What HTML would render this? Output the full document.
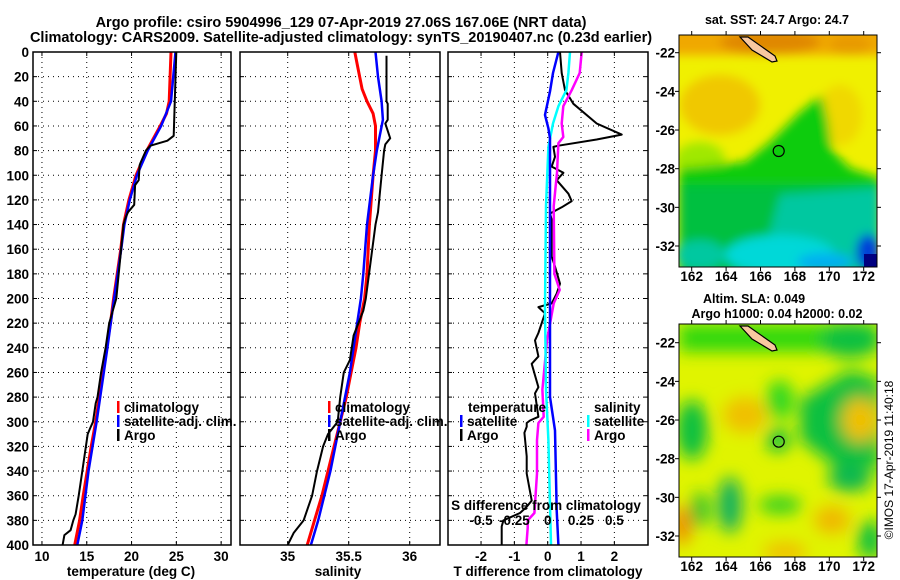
<!DOCTYPE html>
<html><head><meta charset="utf-8">
<style>
html,body{margin:0;padding:0;background:#fff;}
svg{display:block;font-family:"Liberation Sans",Arial,sans-serif;font-weight:bold;}
text{fill:#000;}
</style></head>
<body>
<svg id="chart" width="900" height="580" viewBox="0 0 900 580" xmlns="http://www.w3.org/2000/svg">
<defs>
<filter id="bl" x="-30%" y="-30%" width="160%" height="160%"><feGaussianBlur stdDeviation="5"/></filter>
<filter id="bl2" x="-30%" y="-30%" width="160%" height="160%"><feGaussianBlur stdDeviation="8"/></filter>
<clipPath id="cm1"><rect x="679" y="35" width="198" height="232"/></clipPath>
<clipPath id="cm2"><rect x="679" y="324" width="198" height="233"/></clipPath>
<clipPath id="cp1"><rect x="33" y="52" width="198" height="493"/></clipPath>
<clipPath id="cp2"><rect x="240" y="52" width="200" height="493"/></clipPath>
<clipPath id="cp3"><rect x="448" y="52" width="200" height="493"/></clipPath>
</defs>
<text x="341" y="27" font-size="14.5" text-anchor="middle">Argo profile: csiro 5904996_129 07-Apr-2019 27.06S 167.06E (NRT data)</text>
<text x="341" y="42" font-size="14.5" text-anchor="middle">Climatology: CARS2009. Satellite-adjusted climatology: synTS_20190407.nc (0.23d earlier)</text>

<g id="grid"></g>
<g id="series"></g>
<g id="axes"></g>

<!-- SST map -->
<g clip-path="url(#cm1)">
<rect x="679" y="35" width="198" height="232" fill="#f0f000"/>
<g filter="url(#bl)">
<rect x="660" y="20" width="240" height="35" fill="#f0a800"/>
<ellipse cx="770" cy="42" rx="50" ry="12" fill="#e08800"/>
<ellipse cx="850" cy="45" rx="20" ry="10" fill="#e89a00"/>
<ellipse cx="720" cy="105" rx="40" ry="30" fill="#f0c800"/>
<ellipse cx="840" cy="115" rx="22" ry="30" fill="#f0d800"/>
<ellipse cx="700" cy="160" rx="25" ry="18" fill="#a0e800"/>
<polygon points="822,95 800,112 784,128 770,142 760,150 745,162 679,168 679,270 880,270 880,178 850,168 832,150 828,120" fill="#10cc10"/>
<rect x="679" y="185" width="200" height="90" fill="#00c040"/>
<polygon points="780,195 880,188 880,270 760,270" fill="#00c8a0"/>
<ellipse cx="780" cy="255" rx="55" ry="20" fill="#00d8d8"/>
<ellipse cx="700" cy="255" rx="25" ry="15" fill="#00c8a0"/>
<ellipse cx="825" cy="262" rx="28" ry="9" fill="#00b0f0"/>
<ellipse cx="868" cy="252" rx="12" ry="18" fill="#0040d8"/>
</g>
<rect x="864" y="254" width="14" height="14" fill="#000080"/>
</g>
<rect x="679" y="35" width="198" height="232" fill="none" stroke="#000" stroke-width="1"/>
<path d="M740,37 L748,37 L775,56 L777,61 L772,62 L752,50 Z" fill="#f8c8a0" stroke="#000" stroke-width="1.2"/>
<circle cx="778.7" cy="151" r="5.5" fill="none" stroke="#000" stroke-width="1.2"/>
<text x="777" y="24" font-size="12.5" text-anchor="middle">sat. SST: 24.7 Argo: 24.7</text>

<!-- SLA map -->
<g clip-path="url(#cm2)">
<rect x="679" y="324" width="198" height="233" fill="#e0f400"/>
<g filter="url(#bl2)">
<rect x="679" y="324" width="200" height="28" fill="#30d810"/>
<ellipse cx="850" cy="340" rx="30" ry="18" fill="#10c040"/>
<ellipse cx="745" cy="415" rx="22" ry="18" fill="#f0c000"/>
<ellipse cx="692" cy="430" rx="16" ry="30" fill="#10c040"/>
<ellipse cx="780" cy="400" rx="14" ry="20" fill="#30d820"/>
<ellipse cx="778" cy="440" rx="12" ry="12" fill="#10c040"/>
<polygon points="800,400 850,370 880,380 880,470 860,465 840,470 800,440" fill="#10c040"/>
<ellipse cx="860" cy="420" rx="18" ry="22" fill="#f0c000"/>
<ellipse cx="850" cy="478" rx="22" ry="14" fill="#10b850"/>
<ellipse cx="730" cy="505" rx="12" ry="28" fill="#10b060"/>
<ellipse cx="700" cy="510" rx="9" ry="18" fill="#20c030"/>
<ellipse cx="780" cy="505" rx="22" ry="9" fill="#30d020"/>
<ellipse cx="832" cy="520" rx="18" ry="14" fill="#f0b800"/>
<ellipse cx="785" cy="552" rx="22" ry="10" fill="#f0c000"/>
<ellipse cx="682" cy="525" rx="9" ry="20" fill="#f08800"/>
<ellipse cx="870" cy="540" rx="12" ry="20" fill="#10c040"/>
</g>
</g>
<rect x="679" y="324" width="198" height="233" fill="none" stroke="#000" stroke-width="1"/>
<path d="M740,326 L748,326 L775,345 L777,350 L772,351 L752,339 Z" fill="#f8c8a0" stroke="#000" stroke-width="1.2"/>
<circle cx="778.7" cy="441.7" r="5.5" fill="none" stroke="#000" stroke-width="1.2"/>
<text x="754" y="303" font-size="12.5" text-anchor="middle">Altim. SLA: 0.049</text>
<text x="777" y="318" font-size="12.5" text-anchor="middle">Argo h1000: 0.04 h2000: 0.02</text>
<text transform="translate(893,460) rotate(-90)" font-size="12" font-weight="normal" text-anchor="middle">©IMOS 17-Apr-2019 11:40:18</text>
<g id="mapaxes"></g>
</svg>
<script>
// ---- data ----
const depthTicks = [0,20,40,60,80,100,120,140,160,180,200,220,240,260,280,300,320,340,360,380,400];
const tempTicks = [10,15,20,25,30];
const salTicks = [35,35.5,36];
const salTickLabels = ["35","35.5","36"];
const tdiffTicks = [-2,-1,0,1,2];
const sdiffTicks = [-0.5,-0.25,0,0.25,0.5];
const sdiffTickLabels = ["-0.5","-0.25","0","0.25","0.5"];

const climTDepth = [0,40,50,60,80,100,120,140,160,180,200,220,240,260,280,300,320,340,360,380,400];
const climTemp   = [24.4,24.2,23.9,23.2,21.7,20.5,19.7,19.1,18.8,18.4,18.0,17.65,17.2,16.8,16.4,16.0,15.5,15.05,14.6,14.2,13.65];
const satTDepth  = [0,40,60,80,100,120,140,160,180,200,240,280,300,340,380,400];
const satTemp    = [24.9,24.4,23.3,21.8,20.6,19.8,19.2,18.85,18.45,18.05,17.3,16.5,16.1,15.2,14.5,13.95];
const argoTDepth = [0,68,72,76,80,90,92,104,108,124,130,135,140,200,220,240,260,280,285,300,305,310,320,340,360,375,380,388,392,400];
const argoTemp   = [25.0,24.7,24.0,22.1,21.6,21.0,20.9,20.8,20.4,20.3,19.6,19.3,19.1,18.3,17.5,17.1,16.6,16.2,16.0,15.7,15.4,15.1,14.9,14.5,14.1,13.75,13.5,13.2,12.5,12.3];

const climSDepth = [0,10,30,40,50,60,80,100,140,180,200,220,240,260,280,300,320,340,360,380,400];
const climSal    = [35.55,35.57,35.61,35.65,35.70,35.72,35.72,35.70,35.67,35.65,35.63,35.59,35.56,35.52,35.48,35.43,35.38,35.33,35.28,35.22,35.16];
const satSDepth  = [0,20,40,55,80,100,140,180,200,220,260,300,340,380,400];
const satSal     = [35.72,35.74,35.77,35.78,35.73,35.70,35.65,35.62,35.60,35.57,35.51,35.43,35.35,35.25,35.19];
const argoSDepth = [3,40,42,55,58,70,75,80,100,130,140,200,210,230,250,260,280,300,310,320,340,360,380,390,400];
const argoSal    = [35.81,35.81,35.82,35.82,35.80,35.84,35.80,35.79,35.77,35.74,35.72,35.64,35.62,35.54,35.51,35.46,35.43,35.41,35.33,35.29,35.24,35.20,35.13,35.05,35.0];

const dTSatDepth = [0,17,32,51,62,70,280,307,372,400];
const dTSat      = [0.32,0.16,0.07,-0.08,0.02,0.07,0.07,0.22,0.27,0.32];
const dSSatDepth = [0,17,31,44,58,77,125,207,274,315,380,400];
const dSSat      = [0.167,0.155,0.14,0.08,0.04,0.005,-0.013,-0.02,-0.013,0.005,0.02,0.025];
const dSArgoDepth= [0,17,31,44,58,69,74,98,125,180,193,204,234,274,296,301,315,342,374,380,386,400];
const dSArgo     = [0.255,0.24,0.18,0.117,0.105,0.117,0.08,0.07,0.045,0.05,0.09,0.045,-0.005,-0.04,-0.03,-0.07,-0.08,-0.08,-0.1,-0.15,-0.15,-0.16];
const dTArgoDepth= [0,17,31,42,58,67,71,76,77,85,93,98,104,115,121,126,131,136,166,174,188,196,204,207,212,228,234,247,253,272,277,296,299,301,304,309,328,342,364,369,374,380,385,400];
const dTArgo     = [0.37,0.42,0.52,0.77,1.47,2.22,1.47,0.32,0.17,0.22,0.12,0.47,0.27,0.62,0.72,0.42,0.07,0.12,0.12,0.22,0.37,0.27,0.12,-0.28,-0.08,-0.28,-0.38,-0.28,-0.48,-0.28,-0.38,-0.28,-0.53,-0.63,-0.63,-0.7,-0.63,-0.63,-0.48,-0.63,-0.83,-1.33,-1.38,-1.38];

const latTicks = [-22,-24,-26,-28,-30,-32];
const lonTicks = [162,164,166,168,170,172];

// ---- axes ----
const NS='http://www.w3.org/2000/svg';
const Y0=52, Y1=545;
const yD = d => Y0 + d*(Y1-Y0)/400;
const xT = t => 33 + (t-9)*198/22.1;
const xS = s => 287.7 + (s-35)*122;
const xDT = t => 547.7 + t*33.33;
const xDS = s => 547.7 + s*133.3;
const mapLon = l => 691.7 + (l-162)*17.2;
const mapLat1 = la => 52.7 + (-22-la)*19.33;
const mapLat2 = la => 342.7 + (-22-la)*19.33;

function mk(tag, attrs, parent, txt){
  const e=document.createElementNS(NS,tag);
  for(const k in attrs) e.setAttribute(k,attrs[k]);
  if(txt!==undefined) e.textContent=txt;
  parent.appendChild(e); return e;
}
const grid=document.getElementById('grid');
const axes=document.getElementById('axes');
const series=document.getElementById('series');
const FS=13.5;

const panels=[{x0:33,x1:231,name:'temperature'},{x0:240,x1:440,name:'salinity'},{x0:448,x1:648,name:'difference'}];
panels.forEach(p=>{
  depthTicks.forEach(d=>{
    if(d>0&&d<400){
      const l=mk('line',{x1:p.x0,x2:p.x1,y1:yD(d),y2:yD(d),stroke:'#000','stroke-width':1,'stroke-dasharray':'1,4'},grid);
      
      
    }
    const t1=mk('line',{x1:p.x0,x2:p.x0+4,y1:yD(d),y2:yD(d),stroke:'#000'},axes);
    
    
    const t2=mk('line',{x1:p.x1-4,x2:p.x1,y1:yD(d),y2:yD(d),stroke:'#000'},axes);
    
    
  });
  const r=mk('rect',{x:p.x0,y:Y0,width:p.x1-p.x0,height:Y1-Y0,fill:'none',stroke:'#000','stroke-width':1.5},axes);
  
  
});
depthTicks.forEach(d=>{
  const t=mk('text',{x:29,y:yD(d)+5,'font-size':FS,'text-anchor':'end'},axes,String(d));
  
  
});
function vgrid(vals,fx,labels,name,ylab){
  vals.forEach((v,i)=>{
    const x=fx(v);
    const g=mk('line',{x1:x,x2:x,y1:Y0,y2:Y1,stroke:'#000','stroke-width':1,'stroke-dasharray':'1,4'},grid);
    
    
    mk('line',{x1:x,x2:x,y1:Y1-4,y2:Y1,stroke:'#000'},axes);
    mk('line',{x1:x,x2:x,y1:Y0,y2:Y0+4,stroke:'#000'},axes);
    const t=mk('text',{x:x,y:ylab,'font-size':FS,'text-anchor':'middle'},axes,labels?labels[i]:String(v));
    
    
  });
}
vgrid(tempTicks,xT,null,'temperature',561);
vgrid(salTicks,xS,salTickLabels,'salinity',561);
vgrid(tdiffTicks,xDT,null,'t-difference',561);
sdiffTicks.forEach((v,i)=>{
  const t=mk('text',{x:xDS(v),y:525,'font-size':FS,'text-anchor':'middle'},axes,sdiffTickLabels[i]);
  
  
});
[['temperature (deg C)',131,'temperature-axis-title'],['salinity',338,'salinity-axis-title'],['T difference from climatology',548,'t-difference-axis-title']].forEach(a=>{
  const t=mk('text',{x:a[1],y:576,'font-size':FS,'text-anchor':'middle'},axes,a[0]);
  
  
});
const st=mk('text',{x:546,y:510,'font-size':FS,'text-anchor':'middle'},axes,'S difference from climatology');



function line(ds,vs,fx,color,w,name,clip){
  const pts=ds.map((d,i)=>fx(vs[i]).toFixed(1)+','+yD(d).toFixed(1)).join(' ');
  const p=mk('polyline',{points:pts,fill:'none',stroke:color,'stroke-width':w,'stroke-linejoin':'round','clip-path':'url(#'+clip+')'},series);
  
  
}
line(climTDepth,climTemp,xT,'#ff0000',3,'temperature-climatology-line','cp1');
line(satTDepth,satTemp,xT,'#0000ff',2.5,'temperature-satellite-line','cp1');
line(argoTDepth,argoTemp,xT,'#000',2,'temperature-argo-line','cp1');
line(climSDepth,climSal,xS,'#ff0000',3,'salinity-climatology-line','cp2');
line(satSDepth,satSal,xS,'#0000ff',2.5,'salinity-satellite-line','cp2');
line(argoSDepth,argoSal,xS,'#000',2,'salinity-argo-line','cp2');
line(dTArgoDepth,dTArgo,xDT,'#000',2,'t-difference-argo-line','cp3');
line(dSArgoDepth,dSArgo,xDS,'#ff00ff',2.5,'s-difference-argo-line','cp3');
line(dSSatDepth,dSSat,xDS,'#00ffff',2.5,'s-difference-satellite-line','cp3');
line(dTSatDepth,dTSat,xDT,'#0000ff',2.5,'t-difference-satellite-line','cp3');

function legend(x,y,color,label,name){
  const m=mk('rect',{x:x,y:y-6,width:2.5,height:12,fill:color},axes);
  
  
  const t=mk('text',{x:x+7,y:y+5,'font-size':FS},axes,label);
  
  
}
legend(117,407,'#ff0000','climatology','legend-temp-climatology');
legend(117,421,'#0000ff','satellite-adj. clim.','legend-temp-satellite');
legend(117,435,'#000','Argo','legend-temp-argo');
legend(328,407,'#ff0000','climatology','legend-sal-climatology');
legend(328,421,'#0000ff','satellite-adj. clim.','legend-sal-satellite');
legend(328,435,'#000','Argo','legend-sal-argo');
const lt=mk('text',{x:468,y:412,'font-size':FS},axes,'temperature');


const ls=mk('text',{x:594,y:412,'font-size':FS},axes,'salinity');


legend(460,421,'#0000ff','satellite','legend-t-diff-satellite');
legend(460,435,'#000','Argo','legend-t-diff-argo');
legend(587,421,'#00ffff','satellite','legend-s-diff-satellite');
legend(587,435,'#ff00ff','Argo','legend-s-diff-argo');

// map axes
const ma=document.getElementById('mapaxes');
[[mapLat1,35,267,280],[mapLat2,324,557,570]].forEach((m,mi)=>{
  latTicks.forEach(la=>{
    const y=m[0](la);
    const t=mk('text',{x:675,y:y+5,'font-size':FS,'text-anchor':'end'},ma,String(la));
    
    
    mk('line',{x1:877,x2:881,y1:y,y2:y,stroke:'#000'},ma);
    mk('line',{x1:675,x2:679,y1:y,y2:y,stroke:'#000'},ma);
  });
  lonTicks.forEach(lo=>{
    const x=mapLon(lo);
    const t=mk('text',{x:x,y:m[3]+1,'font-size':FS,'text-anchor':'middle'},ma,String(lo));
    
    
    mk('line',{x1:x,x2:x,y1:m[2],y2:m[2]+4,stroke:'#000'},ma);
    mk('line',{x1:x,x2:x,y1:m[1]-4,y2:m[1],stroke:'#000'},ma);
  });
});
</script>
</body></html>
